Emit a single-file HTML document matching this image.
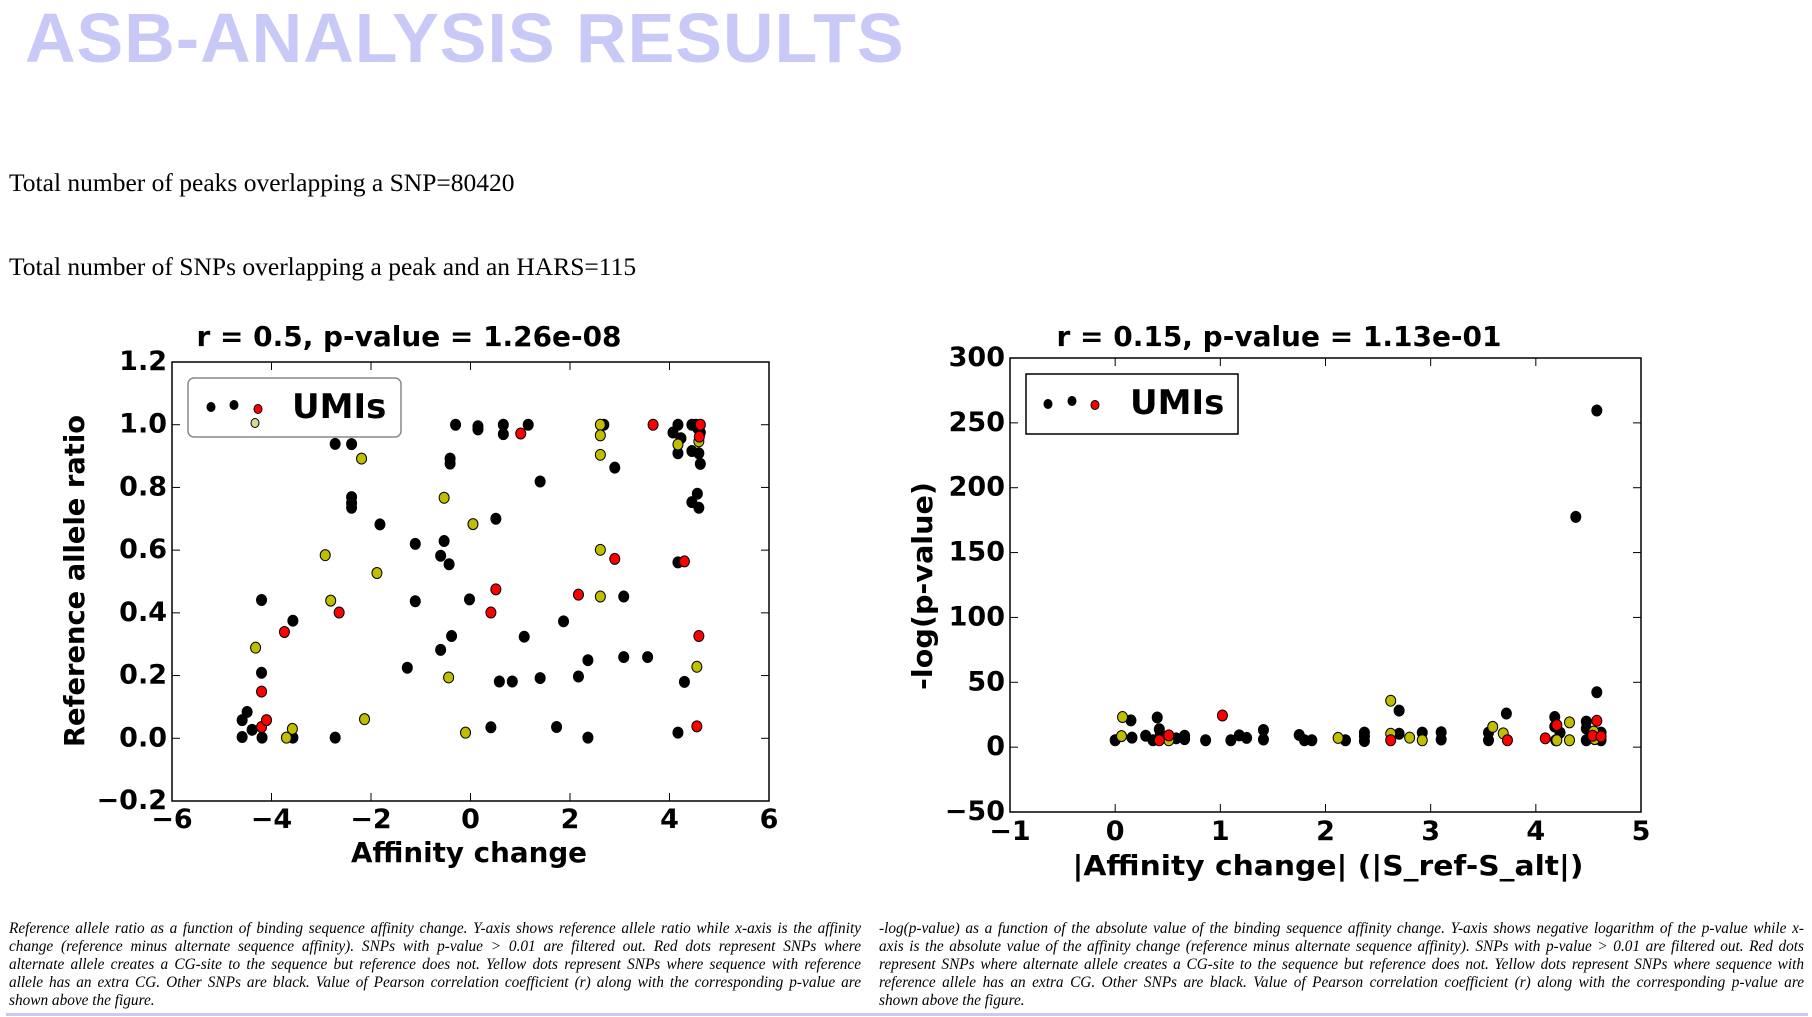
<!DOCTYPE html>
<html><head><meta charset="utf-8">
<style>
body{margin:0;width:1812px;height:1017px;background:#fff;position:relative;overflow:hidden;font-family:"Liberation Serif",serif;}
#title{position:absolute;left:25px;top:-2px;font:bold 70px "Liberation Sans",sans-serif;color:#c9c9f7;margin:0;letter-spacing:1px;}
.stat{position:absolute;left:9px;font-size:25.5px;color:#000;margin:0;}
.cap{position:absolute;top:920px;font-style:italic;font-size:15.3px;line-height:18px;}
.cap div{text-align:justify;text-align-last:justify;white-space:nowrap;}
.cap div.last{text-align-last:left;}
#rule{position:absolute;left:6px;top:1013px;width:1802px;height:3px;background:#c9c9f7;}
svg{position:absolute;left:0;top:0;}
</style></head><body>
<h1 id="title">ASB-ANALYSIS RESULTS</h1>
<p class="stat" style="top:168px">Total number of peaks overlapping a SNP=80420</p>
<p class="stat" style="top:252px">Total number of SNPs overlapping a peak and an HARS=115</p>
<svg id="chart" width="1812" height="1017"></svg>
<div class="cap" style="left:9px;width:852px">
<div>Reference allele ratio as a function of binding sequence affinity change. Y-axis shows reference allele ratio while x-axis is the affinity</div>
<div>change (reference minus alternate sequence affinity). SNPs with p-value &gt; 0.01 are filtered out. Red dots represent SNPs where</div>
<div>alternate allele creates a CG-site to the sequence but reference does not. Yellow dots represent SNPs where sequence with reference</div>
<div>allele has an extra CG. Other SNPs are black. Value of Pearson correlation coefficient (r) along with the corresponding p-value are</div>
<div class="last">shown above the figure.</div>
</div>
<div class="cap" style="left:879px;width:925px">
<div>-log(p-value) as a function of the absolute value of the binding sequence affinity change. Y-axis shows negative logarithm of the p-value while x-</div>
<div>axis is the absolute value of the affinity change (reference minus alternate sequence affinity). SNPs with p-value &gt; 0.01 are filtered out. Red dots</div>
<div>represent SNPs where alternate allele creates a CG-site to the sequence but reference does not. Yellow dots represent SNPs where sequence with</div>
<div>reference allele has an extra CG. Other SNPs are black. Value of Pearson correlation coefficient (r) along with the corresponding p-value are</div>
<div class="last">shown above the figure.</div>
</div>
<div id="rule"></div>
<script>
// ---- left chart data ----
const leftBlackX=[-4.59,-4.49,-4.59,-4.39,-4.20,-4.20,-4.19,-3.57,-3.57,-2.72,-2.72,-2.39,-2.39,-2.39,-2.39,-1.82,-1.27,-1.11,-1.11,-0.60,-0.60,-0.53,-0.43,-0.41,-0.41,-0.38,-0.30,-0.02,0.15,0.15,0.41,0.51,0.58,0.66,0.66,0.84,1.08,1.16,1.40,1.40,1.73,1.87,2.17,2.36,2.36,2.68,2.90,3.08,3.08,3.56,4.07,4.17,4.17,4.17,4.17,4.23,4.30,4.45,4.45,4.45,4.53,4.56,4.59,4.59,4.62,4.62,4.56];
const leftBlackY=[0.058,0.084,0.004,0.027,0.441,0.209,0.002,0.375,0.002,0.939,0.002,0.938,0.769,0.750,0.735,0.682,0.225,0.620,0.437,0.582,0.282,0.629,0.555,0.892,0.876,0.326,1.0,0.443,0.995,0.985,0.035,0.700,0.181,1.0,0.970,0.181,0.324,1.0,0.819,0.192,0.036,0.373,0.197,0.249,0.002,1.0,0.863,0.452,0.259,0.259,0.975,1.0,0.909,0.561,0.018,0.957,0.180,1.0,0.916,0.753,1.0,0.780,0.909,0.735,0.875,0.975,0.99];
const leftRedX=[-4.20,-4.20,-4.10,-3.74,-2.64,0.41,0.51,1.01,2.17,2.90,3.67,4.30,4.59,4.55,4.62,4.60];
const leftRedY=[0.149,0.036,0.058,0.339,0.401,0.401,0.475,0.972,0.458,0.572,1.0,0.564,0.326,0.038,1.0,0.962];
const leftYellowX=[-4.32,-3.70,-3.58,-2.92,-2.81,-2.19,-2.13,-1.88,-0.53,-0.44,-0.10,0.05,2.61,2.61,2.61,2.61,2.61,4.17,4.55,4.59];
const leftYellowY=[0.289,0.002,0.030,0.584,0.439,0.892,0.061,0.527,0.767,0.194,0.018,0.683,1.0,0.966,0.904,0.601,0.452,0.937,0.228,0.947];
const leftXTicks=[-6,-4,-2,0,2,4,6];
const leftYTicks=[-0.2,0.0,0.2,0.4,0.6,0.8,1.0,1.2];
const leftYTickLabels=["\u22120.2","0.0","0.2","0.4","0.6","0.8","1.0","1.2"];
// ---- right chart data ----
const rightBlackX=[0.0,0.15,0.16,0.29,0.36,0.40,0.42,0.43,0.58,0.66,0.66,0.86,1.10,1.18,1.25,1.41,1.41,1.75,1.80,1.87,2.19,2.37,2.37,2.37,2.70,2.70,2.92,3.10,3.10,3.55,3.55,3.72,4.18,4.18,4.19,4.23,4.38,4.48,4.48,4.48,4.58,4.58,4.62,4.62];
const rightBlackY=[5.3,20.6,7.3,8.8,5.3,22.9,13.8,9.7,6.8,8.8,6.2,5.3,5.3,9.1,7.1,13.2,5.9,9.4,5.3,5.3,5.3,11.2,8.2,4.7,28.2,10.3,11.2,11.5,5.9,11.2,5.3,25.9,23.2,15.9,5.3,11.2,177.5,19.7,14.4,5.3,259.5,42.3,11.2,5.3];
const rightRedX=[0.51,0.42,1.02,2.62,3.73,4.09,4.20,4.54,4.58,4.62];
const rightRedY=[9.1,5.3,24.4,5.3,5.3,6.8,17.0,8.8,20.3,8.2];
const rightYellowX=[0.07,0.06,0.51,2.12,2.62,2.62,2.80,2.92,3.59,3.69,4.20,4.32,4.32,4.55,4.56];
const rightYellowY=[23.2,8.5,5.3,7.1,35.8,10.3,7.3,5.3,15.6,10.6,5.3,19.1,5.3,12.0,6.2];
const rightXTicks=[-1,0,1,2,3,4,5];
const rightYTicks=[-50,0,50,100,150,200,250,300];

const NS='http://www.w3.org/2000/svg';
const svg=document.getElementById('chart');
const AX='font-family:"DejaVu Sans",sans-serif;font-weight:bold;';
function mk(tag,attrs,parent){const e=document.createElementNS(NS,tag);for(const k in attrs)e.setAttribute(k,attrs[k]);(parent||svg).appendChild(e);return e;}
function txt(s,attrs,parent){const t=mk('text',attrs,parent);t.textContent=s;return t;}

function chart(o){
  const g=mk('g',{});
  
  
  const sx=v=>o.L+(v-o.xmin)/(o.xmax-o.xmin)*(o.R-o.L);
  const sy=v=>o.B-(v-o.ymin)/(o.ymax-o.ymin)*(o.B-o.T);
  const frame=mk('rect',{x:o.L,y:o.T,width:o.R-o.L,height:o.B-o.T,fill:'#fff',stroke:'#000','stroke-width':1.5},g);
  
  
  o.xt.forEach(v=>{
    const x=sx(v);
    mk('line',{x1:x,x2:x,y1:o.B,y2:o.B-8,stroke:'#000','stroke-width':1},g);
    mk('line',{x1:x,x2:x,y1:o.T,y2:o.T+8,stroke:'#000','stroke-width':1},g);
    const t=txt(v<0?'\u2212'+Math.abs(v):String(v),{x:x,y:o.xtY,'text-anchor':'middle',style:AX+'font-size:27px'},g);
    
    
  });
  o.yt.forEach((v,i)=>{
    const y=sy(v);
    mk('line',{x1:o.L,x2:o.L+8,y1:y,y2:y,stroke:'#000','stroke-width':1},g);
    mk('line',{x1:o.R,x2:o.R-8,y1:y,y2:y,stroke:'#000','stroke-width':1},g);
    const t=txt(o.ytl[i],{x:o.L-5,y:y+8,'text-anchor':'end',style:AX+'font-size:27px'},g);
    
    
  });
  const series=[[o.bx,o.by,'#000000','black'],[o.yx,o.yy,'#bfbf00','yellow'],[o.rx,o.ry,'#ff0000','red']];
  series.forEach(s=>{
    s[0].forEach((xv,i)=>{
      const c=mk('ellipse',{cx:sx(xv),cy:sy(s[1][i]),rx:5,ry:5.5,fill:s[2],stroke:'#000','stroke-width':1},g);
      
      
    });
  });
  const ti=txt(o.title,{x:o.titleX,y:o.titleY,'text-anchor':'middle',textLength:o.titleW,lengthAdjust:'spacingAndGlyphs',style:AX+'font-size:28px'},g);
  
  
  const xl=txt(o.xlab,{x:o.xlX,y:o.xlY,'text-anchor':'middle',textLength:o.xlW,lengthAdjust:'spacingAndGlyphs',style:AX+'font-size:28px'},g);
  
  
  const yl=txt(o.ylab,{x:0,y:0,'text-anchor':'middle',textLength:o.ylW,lengthAdjust:'spacingAndGlyphs',transform:`translate(${o.ylX},${o.ylY}) rotate(-90)`,style:AX+'font-size:28px'},g);
  
  
  const lg=mk('g',{},g);
  
  
  mk('rect',{x:o.lgX,y:o.lgY,width:o.lgW,height:o.lgH,rx:o.lgR,fill:'#fff',stroke:o.lgS,'stroke-width':1.5},lg);
  o.lgDots.forEach(d=>mk('ellipse',{cx:d[0],cy:d[1],rx:4,ry:4.5,fill:d[2],stroke:'#000','stroke-width':1},lg));
  const lt=txt('UMIs',{x:o.lgTX,y:o.lgTY,style:AX+'font-size:34px'},lg);
  
  
}

chart({name:'reference-allele-ratio-scatter',L:172,R:769,T:362,B:801,xmin:-6,xmax:6,ymin:-0.2,ymax:1.2,
  xt:leftXTicks,yt:leftYTicks,ytl:leftYTickLabels,xtY:828,
  bx:leftBlackX,by:leftBlackY,rx:leftRedX,ry:leftRedY,yx:leftYellowX,yy:leftYellowY,
  title:'r = 0.5, p-value = 1.26e-08',titleX:409,titleY:346,titleW:425,
  xlab:'Affinity change',xlX:469,xlY:862,xlW:236,
  ylab:'Reference allele ratio',ylX:84,ylY:581,ylW:332,
  lgX:188,lgY:378,lgW:213,lgH:59,lgR:6,lgS:'#888',
  lgDots:[[211,407,'#000'],[234,405,'#000'],[258,409,'#f00'],[255,423,'#d8d890']],lgTX:292,lgTY:418});

chart({name:'neg-log-pvalue-scatter',L:1010,R:1641,T:358,B:812,xmin:-1,xmax:5,ymin:-50,ymax:300,
  xt:rightXTicks,yt:rightYTicks,ytl:rightYTicks.map(v=>v<0?'\u2212'+Math.abs(v):String(v)),xtY:840,
  bx:rightBlackX,by:rightBlackY,rx:rightRedX,ry:rightRedY,yx:rightYellowX,yy:rightYellowY,
  title:'r = 0.15, p-value = 1.13e-01',titleX:1279,titleY:346,titleW:445,
  xlab:'|Affinity change| (|S_ref-S_alt|)',xlX:1328,xlY:875,xlW:511,
  ylab:'-log(p-value)',ylX:932,ylY:586,ylW:208,
  lgX:1026,lgY:374,lgW:212,lgH:60,lgR:0,lgS:'#000',
  lgDots:[[1048,404,'#000'],[1072,401,'#000'],[1095,405,'#f00']],lgTX:1130,lgTY:414});
</script>
</body></html>
